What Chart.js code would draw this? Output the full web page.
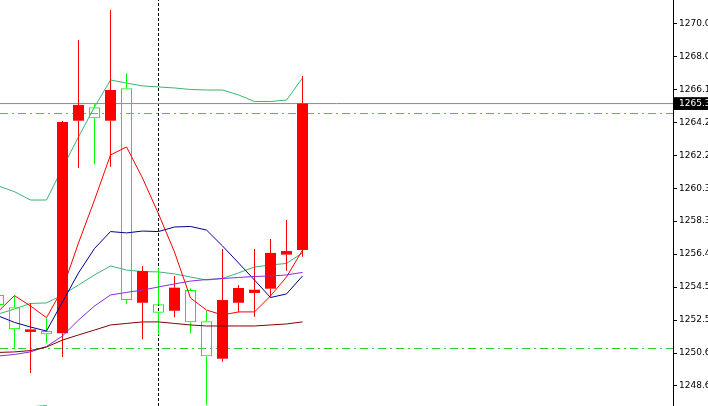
<!DOCTYPE html>
<html>
<head>
<meta charset="utf-8">
<script src="https://cdn.jsdelivr.net/npm/chart.js@4.4.1/dist/chart.umd.min.js"></script>
<style>
  html, body { margin: 0; padding: 0; background: #fff; overflow: hidden; }
  #wrap { position: relative; width: 708px; height: 406px; }
</style>
</head>
<body>
<div id="wrap"><canvas id="chart"></canvas></div>
<script>
// ── Candles (one per bar, left to right) ──
const open  = [1253.43, 1251.99, 1251.99, 1251.70, 1264.22, 1265.23, 1264.44, 1266.11, 1253.72, 1255.43,
               1252.97, 1254.45, 1252.41, 1250.40, 1253.72, 1254.43, 1254.33, 1256.50, 1256.61, 1265.31];
const high  = [1254.31, 1253.99, 1253.53, 1252.64, 1264.28, 1269.06, 1265.33, 1270.83, 1267.10, 1255.73,
               1255.59, 1255.14, 1254.41, 1253.09, 1256.73, 1254.61, 1256.73, 1257.32, 1258.44, 1266.94];
const low   = [1253.02, 1250.83, 1249.42, 1251.17, 1250.36, 1261.51, 1261.73, 1261.59, 1253.47, 1251.41,
               1251.66, 1252.70, 1251.76, 1247.53, 1250.08, 1253.00, 1252.74, 1253.92, 1255.45, 1256.28];
const close = [1254.02, 1253.29, 1251.84, 1251.89, 1251.76, 1264.30, 1265.09, 1264.30, 1266.21, 1253.56,
               1253.47, 1253.09, 1254.31, 1252.47, 1250.26, 1253.56, 1254.14, 1254.39, 1256.40, 1256.67];

// ── Indicators ──
const bbUpper  = [1260.45, 1260.11, 1259.62, 1259.62, 1261.51, 1263.34, 1265.11, 1266.70, 1266.52, 1266.35,
                  1266.29, 1266.23, 1266.14, 1266.11, 1266.11, 1265.82, 1265.43, 1265.43, 1265.52, 1266.82];
const bbMiddle = [1252.90, 1253.19, 1253.52, 1253.55, 1254.02, 1254.61, 1255.20, 1255.73, 1255.49, 1255.40,
                  1255.38, 1255.26, 1255.08, 1254.90, 1254.99, 1255.32, 1255.67, 1255.79, 1255.88, 1256.50];
const bbLower  = [1245.35, 1246.27, 1247.42, 1247.50, 1246.53, 1245.88, 1245.29, 1244.76, 1244.46, 1244.45,
                  1244.47, 1244.29, 1244.02, 1243.69, 1243.87, 1244.82, 1245.91, 1246.15, 1246.24, 1246.18];
const maFast   = [1253.07, 1253.98, 1253.37, 1252.68, 1254.37, 1257.09, 1259.62, 1262.28, 1262.75, 1260.92,
                  1258.80, 1256.55, 1253.84, 1253.13, 1252.84, 1253.02, 1253.02, 1253.96, 1255.08, 1256.67];
const maMid    = [1252.78, 1252.40, 1252.13, 1251.89, 1253.61, 1255.32, 1256.76, 1257.76, 1257.68, 1257.79,
                  1257.76, 1258.03, 1258.06, 1257.85, 1256.91, 1255.91, 1254.90, 1253.87, 1254.08, 1255.14];
const maSlow   = [1250.42, 1250.51, 1250.66, 1250.98, 1251.60, 1252.54, 1253.37, 1254.02, 1254.17, 1254.31,
                  1254.49, 1254.67, 1254.84, 1254.93, 1254.99, 1255.05, 1255.11, 1255.14, 1255.20, 1255.35];
const maLong   = [1250.63, 1250.66, 1250.74, 1250.95, 1251.36, 1251.66, 1251.95, 1252.25, 1252.34, 1252.43,
                  1252.43, 1252.34, 1252.25, 1252.19, 1252.19, 1252.19, 1252.19, 1252.25, 1252.31, 1252.43];

// ── Levels / markers ──
const bidPrice = 1265.31;
const bidLabel = '1265.31';
const dashLevels = [1264.72, 1250.86];
const cursorIndex = 10;

// ── Price axis ──
const tickValues = [1248.650, 1250.595, 1252.540, 1254.485, 1256.430, 1258.375,
                    1260.320, 1262.265, 1264.210, 1266.155, 1268.100, 1270.045];
const tickLabels = ['1248.65', '1250.60', '1252.55', '1254.50', '1256.45', '1258.35',
                    '1260.30', '1262.25', '1264.20', '1266.15', '1268.05', '1270.00'];

// visible window (16px per bar, plot is 673px wide)
const X_MIN = 0.09375, X_MAX = 42.15625;
const Y_MIN = 1247.47, Y_MAX = 1271.419;

const BULL = '#00ff00';
const BEAR = '#ff0000';

const isBull = i => close[i] >= open[i];
const toPoints = arr => arr.map((v, i) => ({ x: i, y: v }));

const bodyData = open.map((o, i) => ({ x: i, y: [o, close[i]] }));
const wickUp = open.map((o, i) => ({ x: i, y: [Math.max(o, close[i]), high[i]] }));
const wickDown = open.map((o, i) => ({ x: i, y: [low[i], Math.min(o, close[i])] }));
const candleColors = open.map((o, i) => isBull(i) ? BULL : BEAR);

function lineSet(data, color, order, extra) {
  return Object.assign({
    type: 'line',
    data,
    borderColor: color,
    borderWidth: 1,
    pointRadius: 0,
    tension: 0,
    fill: false,
    order,
  }, extra || {});
}

function wickSet(data) {
  return {
    type: 'bar',
    data,
    backgroundColor: candleColors,
    borderWidth: 0,
    barThickness: 1,
    grouped: false,
    inflateAmount: 0,
    order: 3,
  };
}

const datasets = [
  // reference lines (drawn first)
  lineSet([{ x: X_MIN, y: bidPrice }, { x: X_MAX, y: bidPrice }], '#8c8c8c', 6),
  ...dashLevels.map(lv => lineSet([{ x: X_MIN, y: lv }, { x: X_MAX, y: lv }], '#32cd32', 6, { borderDash: [8, 4, 2, 4] })),
  lineSet([{ x: cursorIndex, y: Y_MIN }, { x: cursorIndex, y: Y_MAX }], '#000000', 6, { borderDash: [3, 2] }),

  // bollinger bands (under the candles)
  lineSet(toPoints(bbUpper), '#3cb371', 5),
  lineSet(toPoints(bbMiddle), '#3cb371', 5),
  lineSet(toPoints(bbLower), '#3cb371', 5),

  // candles
  wickSet(wickUp),
  wickSet(wickDown),
  {
    type: 'bar',
    data: bodyData,
    backgroundColor: open.map((o, i) => isBull(i) ? 'rgba(0,0,0,0)' : BEAR),
    borderColor: candleColors,
    borderWidth: open.map((o, i) => isBull(i) ? 1 : 0),
    borderSkipped: false,
    barThickness: 11,
    grouped: false,
    inflateAmount: 0,
    order: 2,
  },

  // moving averages (on top)
  lineSet(toPoints(maLong), '#800000', 1),
  lineSet(toPoints(maSlow), '#8a2be2', 1),
  lineSet(toPoints(maMid), '#00008b', 1),
  lineSet(toPoints(maFast), '#ff0000', 1),
];

new Chart(document.getElementById('chart'), {
  type: 'bar',
  data: { datasets },
  options: {
    responsive: true,
    maintainAspectRatio: false,
    animation: false,
    events: [],
    layout: { padding: 0 },
    plugins: {
      legend: { display: false },
      tooltip: { enabled: false },
    },
    scales: {
      x: {
        type: 'linear',
        min: X_MIN,
        max: X_MAX,
        offset: false,
        display: false,
      },
      y: {
        type: 'linear',
        position: 'right',
        min: Y_MIN,
        max: Y_MAX,
        afterBuildTicks: s => {
          s.ticks = tickValues.map(v => ({ value: v })).concat([{ value: bidPrice }]);
        },
        afterFit: s => {
          s.width = 35;
          s.paddingTop = 0;
          s.paddingBottom = 0;
        },
        grid: {
          drawOnChartArea: false,
          tickLength: 4,
          color: '#000000',
          tickColor: '#000000',
        },
        border: { color: '#000000', width: 1 },
        ticks: {
          autoSkip: false,
          padding: 2,
          font: { family: 'DejaVu Sans', size: 9 },
          color: ctx => ctx.index === tickValues.length ? '#ffffff' : '#000000',
          showLabelBackdrop: ctx => ctx.index === tickValues.length,
          backdropColor: '#000000',
          backdropPadding: { left: 5, right: 5, top: 1, bottom: 1 },
          callback: (v, i) => i < tickLabels.length ? tickLabels[i] : bidLabel,
        },
      },
    },
  },
});
</script>
</body>
</html>
